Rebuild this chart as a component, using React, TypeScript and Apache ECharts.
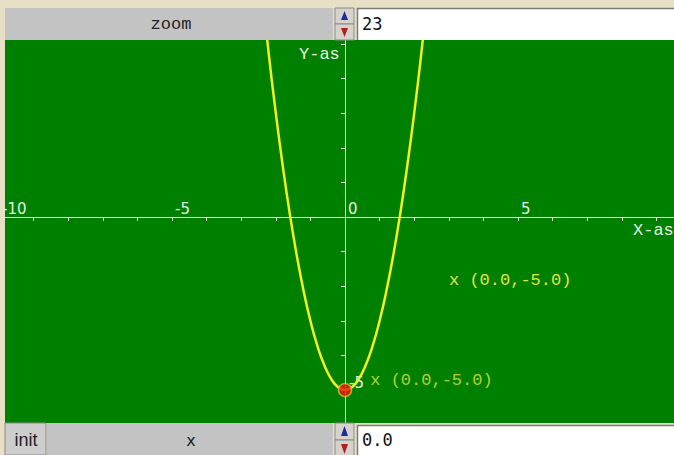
import React, { useEffect, useRef } from 'react';
import * as echarts from 'echarts';

// Sampled points of the plotted function y = 2x^2 - 5
const curveX = [-2.4, -2.2, -2.0, -1.8, -1.6, -1.4, -1.2, -1.0, -0.8, -0.6, -0.4, -0.2, 0.0,
  0.2, 0.4, 0.6, 0.8, 1.0, 1.2, 1.4, 1.6, 1.8, 2.0, 2.2, 2.4];
const curveY = [6.52, 4.68, 3.0, 1.48, 0.12, -1.08, -2.12, -3.0, -3.72, -4.28, -4.68, -4.92, -5.0,
  -4.92, -4.68, -4.28, -3.72, -3.0, -2.12, -1.08, 0.12, 1.48, 3.0, 4.68, 6.52];

// Selected point on the curve
const pointX = [0.0];
const pointY = [-5.0];

// Tick labels that are written next to the axes
const xTickLabels = [-10, -5, 0, 5];
const yTickLabels = [-5];

// Control values
const zoomLabel = 'zoom';
const zoomValue = '23';
const varLabel = 'x';
const varValue = '0.0';
const initLabel = 'init';
const xAxisName = 'X-as';
const yAxisName = 'Y-as';

const AXIS_COLOR = '#e6f2e6';
const CURVE_COLOR = '#f2f220';
const LABEL_COLOR = '#e0e644';
const MONO = 'Liberation Mono';

// plot geometry: the grid spans x in [-10, 10] and y in [-6, 6]
const GRID_LEFT = -1;
const GRID_WIDTH = 692;
const GRID_TOP = 9.4;
const GRID_HEIGHT = 415.2;

const fmtPoint = (x: number, y: number) => `x (${x.toFixed(1)},${y.toFixed(1)})`;

function spinner(x: number, y: number, h: number) {
  const half = h / 2;
  return [
    { type: 'rect', z: 100, shape: { x, y, width: 19, height: half }, style: { fill: '#d6d3cc', stroke: '#8a8a8a', lineWidth: 1 } },
    { type: 'rect', z: 100, shape: { x, y: y + half, width: 19, height: half }, style: { fill: '#d6d3cc', stroke: '#8a8a8a', lineWidth: 1 } },
    { type: 'polygon', z: 101, shape: { points: [[x + 6, y + half - 4], [x + 13, y + half - 4], [x + 9.5, y + 3]] }, style: { fill: '#1c2ca0' } },
    { type: 'polygon', z: 101, shape: { points: [[x + 6, y + half + 4], [x + 13, y + half + 4], [x + 9.5, y + h - 3]] }, style: { fill: '#b0201c' } },
  ];
}

function field(x: number, y: number, w: number, h: number, text: string) {
  return [
    { type: 'rect', z: 100, shape: { x, y, width: w, height: h }, style: { fill: '#ffffff' } },
    { type: 'line', z: 101, shape: { x1: x, y1: y + 0.5, x2: x + w, y2: y + 0.5 }, style: { stroke: '#7a7a7a', lineWidth: 1.5 } },
    { type: 'line', z: 101, shape: { x1: x + 0.5, y1: y, x2: x + 0.5, y2: y + h }, style: { stroke: '#7a7a7a', lineWidth: 1.5 } },
    { type: 'text', z: 102, x: x + 5, y: y + h / 2, style: { text, fill: '#111111', font: `17px 'DejaVu Sans Mono'`, align: 'left', verticalAlign: 'middle' } },
  ];
}

export default function App() {
  const ref = useRef<HTMLDivElement>(null);

  useEffect(() => {
    document.body.style.margin = '0';
    if (!ref.current) return;
    const chart = echarts.init(ref.current, undefined, { renderer: 'svg' });

    // axes cross at the origin: shift each axis from the grid edge to the zero line
    const xZeroOffset = -(GRID_HEIGHT * 6) / 12;
    const yZeroOffset = -(GRID_WIDTH * 10) / 20;

    const graphic: any[] = [
      // plotting surface
      { type: 'rect', z: -10, shape: { x: 5, y: 40, width: 669, height: 383 }, style: { fill: '#008000' } },
      // axis names and the readout of the selected point
      { type: 'text', z: 5, x: 633, y: 230, style: { text: xAxisName, fill: AXIS_COLOR, font: `17px '${MONO}'`, align: 'left', verticalAlign: 'middle' } },
      { type: 'text', z: 5, x: 299, y: 54, style: { text: yAxisName, fill: AXIS_COLOR, font: `17px '${MONO}'`, align: 'left', verticalAlign: 'middle' } },
      { type: 'text', z: 5, x: 449, y: 280, style: { text: fmtPoint(pointX[0], pointY[0]), fill: LABEL_COLOR, font: `17px '${MONO}'`, align: 'left', verticalAlign: 'middle' } },

      // top control row
      { type: 'rect', z: 100, shape: { x: 5, y: 8, width: 328, height: 32 }, style: { fill: '#c3c3c3' } },
      { type: 'text', z: 101, x: 171, y: 24, style: { text: zoomLabel, fill: '#222222', font: `17px '${MONO}'`, align: 'center', verticalAlign: 'middle' } },
      ...spinner(335, 8, 32),
      ...field(357, 8, 317, 32, zoomValue),

      // bottom control row
      { type: 'rect', z: 100, shape: { x: 5, y: 423, width: 41, height: 32 }, style: { fill: '#cdcdcd', stroke: '#8a8a8a', lineWidth: 1 } },
      { type: 'text', z: 101, x: 26, y: 440, style: { text: initLabel, fill: '#222222', font: `18px 'Liberation Sans'`, align: 'center', verticalAlign: 'middle' } },
      { type: 'rect', z: 100, shape: { x: 47, y: 423, width: 286, height: 32 }, style: { fill: '#c3c3c3' } },
      { type: 'text', z: 101, x: 191, y: 440, style: { text: varLabel, fill: '#222222', font: `16px 'DejaVu Sans'`, align: 'center', verticalAlign: 'middle' } },
      ...spinner(335, 423, 34),
      ...field(357, 425, 317, 30, varValue),
    ];

    chart.setOption({
      animation: false,
      backgroundColor: '#e8e0c6',
      grid: { left: GRID_LEFT, width: GRID_WIDTH, top: GRID_TOP, height: GRID_HEIGHT, containLabel: false, outerBoundsMode: 'none' },
      xAxis: {
        type: 'value', min: -10, max: 10, interval: 1,
        position: 'bottom', offset: xZeroOffset,
        axisLine: { onZero: false, lineStyle: { color: AXIS_COLOR, width: 1 } },
        axisTick: { show: true, length: 4, lineStyle: { color: AXIS_COLOR } },
        splitLine: { show: false },
        axisLabel: {
          inside: true, margin: 1, align: 'left', padding: [0, 0, 0, 3],
          color: AXIS_COLOR, fontFamily: 'DejaVu Sans', fontSize: 15,
          showMinLabel: true, showMaxLabel: true,
          formatter: (v: number) => (xTickLabels.includes(v) ? String(v) : ''),
        },
      },
      yAxis: {
        type: 'value', min: -6, max: 6, interval: 1,
        position: 'left', offset: yZeroOffset,
        axisLine: { onZero: false, lineStyle: { color: AXIS_COLOR, width: 1 } },
        axisTick: { show: true, length: 4, lineStyle: { color: AXIS_COLOR } },
        splitLine: { show: false },
        axisLabel: {
          inside: true, margin: 4, verticalAlign: 'bottom', lineHeight: 15,
          color: AXIS_COLOR, fontFamily: 'DejaVu Sans', fontSize: 15,
          formatter: (v: number) => (yTickLabels.includes(v) ? String(v) : ''),
        },
      },
      graphic,
      series: [
        {
          type: 'line',
          data: curveX.map((x, i) => [x, curveY[i]]),
          smooth: true,
          symbol: 'none',
          lineStyle: { color: CURVE_COLOR, width: 2.5 },
          clip: true,
          z: 2,
        },
        {
          type: 'scatter',
          data: pointX.map((x, i) => [x, pointY[i]]),
          symbolSize: 13,
          itemStyle: { color: '#ee1111', borderColor: '#e2c020', borderWidth: 1.5 },
          label: {
            show: true, position: 'right', distance: 18, offset: [0, -10],
            color: LABEL_COLOR, fontFamily: MONO, fontSize: 17,
            formatter: (p: any) => fmtPoint(p.value[0], p.value[1]),
          },
          z: 3,
        },
      ],
    });

    return () => chart.dispose();
  }, []);

  return <div ref={ref} style={{ width: 674, height: 455 }} />;
}
